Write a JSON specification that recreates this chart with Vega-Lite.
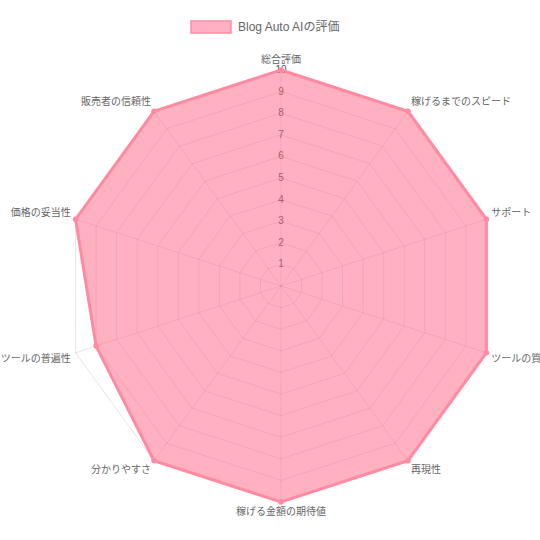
{
  "$schema": "https://vega.github.io/schema/vega-lite/v6.json",
  "width": 540,
  "height": 540,
  "autosize": "none",
  "padding": 0,
  "config": {
    "view": {"stroke": null},
    "font": "Liberation Sans, Noto Sans CJK JP"
  },
  "data": {
    "values": [
      {"idx": 0, "label": "総合評価", "value": 10, "levels": [1, 2, 3, 4, 5, 6, 7, 8, 9, 10]},
      {"idx": 1, "label": "稼げるまでのスピード", "value": 10, "levels": [1, 2, 3, 4, 5, 6, 7, 8, 9, 10]},
      {"idx": 2, "label": "サポート", "value": 10, "levels": [1, 2, 3, 4, 5, 6, 7, 8, 9, 10]},
      {"idx": 3, "label": "ツールの質", "value": 10, "levels": [1, 2, 3, 4, 5, 6, 7, 8, 9, 10]},
      {"idx": 4, "label": "再現性", "value": 10, "levels": [1, 2, 3, 4, 5, 6, 7, 8, 9, 10]},
      {"idx": 5, "label": "稼げる金額の期待値", "value": 10, "levels": [1, 2, 3, 4, 5, 6, 7, 8, 9, 10]},
      {"idx": 6, "label": "分かりやすさ", "value": 10, "levels": [1, 2, 3, 4, 5, 6, 7, 8, 9, 10]},
      {"idx": 7, "label": "ツールの普遍性", "value": 9, "levels": [1, 2, 3, 4, 5, 6, 7, 8, 9, 10]},
      {"idx": 8, "label": "価格の妥当性", "value": 10, "levels": [1, 2, 3, 4, 5, 6, 7, 8, 9, 10]},
      {"idx": 9, "label": "販売者の信頼性", "value": 10, "levels": [1, 2, 3, 4, 5, 6, 7, 8, 9, 10]}
    ]
  },
  "transform": [{"calculate": "datum.idx * PI / 5", "as": "angle"}],
  "encoding": {
    "x": {"field": "px", "type": "quantitative", "axis": null, "scale": {"domain": [-13.009, 11.991], "nice": false, "zero": false}},
    "y": {"field": "py", "type": "quantitative", "axis": null, "scale": {"domain": [-11.759, 13.241], "nice": false, "zero": false}}
  },
  "layer": [
    {
      "transform": [
        {"flatten": ["levels"], "as": ["level"]},
        {"calculate": "datum.level * sin(datum.angle)", "as": "px"},
        {"calculate": "datum.level * cos(datum.angle)", "as": "py"}
      ],
      "mark": {"type": "line", "interpolate": "linear-closed", "stroke": "rgba(0,0,0,0.1)", "strokeWidth": 1},
      "encoding": {
        "detail": {"field": "level"},
        "order": {"field": "idx"}
      }
    },
    {
      "transform": [
        {"calculate": "10 * sin(datum.angle)", "as": "px"},
        {"calculate": "10 * cos(datum.angle)", "as": "py"}
      ],
      "mark": {"type": "rule", "stroke": "rgba(0,0,0,0.1)", "strokeWidth": 1},
      "encoding": {
        "x2": {"datum": 0},
        "y2": {"datum": 0}
      }
    },
    {
      "transform": [
        {"filter": "datum.idx == 0"},
        {"flatten": ["levels"], "as": ["level"]},
        {"calculate": "0", "as": "px"},
        {"calculate": "datum.level", "as": "py"}
      ],
      "mark": {"type": "text", "fontSize": 10, "color": "#555", "align": "center", "baseline": "middle"},
      "encoding": {"text": {"field": "level"}}
    },
    {
      "transform": [
        {"calculate": "datum.value * sin(datum.angle)", "as": "px"},
        {"calculate": "datum.value * cos(datum.angle)", "as": "py"}
      ],
      "mark": {"type": "line", "interpolate": "linear-closed", "fill": "rgba(255,99,132,0.5)", "strokeWidth": 3},
      "encoding": {
        "order": {"field": "idx"},
        "color": {
          "datum": "Blog Auto AIの評価",
          "scale": {"range": ["#ff8aa2"]},
          "legend": {
            "title": null,
            "orient": "none",
            "legendX": 190,
            "legendY": 6,
            "padding": 0,
            "symbolType": "M-1,-0.3H1V0.3H-1Z",
            "symbolSize": 1600,
            "labelFontSize": 12,
            "labelColor": "#666",
            "labelFont": "Liberation Sans, Noto Sans CJK JP",
            "labelOffset": 6,
            "encode": {
              "symbols": {
                "update": {
                  "fill": {"value": "#ffb1c1"},
                  "stroke": {"value": "#ff8aa2"},
                  "strokeWidth": {"value": 3}
                }
              }
            }
          }
        }
      }
    },
    {
      "transform": [
        {"calculate": "datum.value * sin(datum.angle)", "as": "px"},
        {"calculate": "datum.value * cos(datum.angle)", "as": "py"}
      ],
      "mark": {"type": "point", "filled": true, "size": 30, "color": "#ff8aa2", "opacity": 1},
      "encoding": {}
    },
    {
      "transform": [
        {"calculate": "10.23 * sin(datum.angle)", "as": "px"},
        {"calculate": "10.23 * cos(datum.angle)", "as": "py"}
      ],
      "mark": {
        "type": "text",
        "fontSize": 10,
        "color": "#666",
        "align": {"expr": "datum.idx == 0 || datum.idx == 5 ? 'center' : (datum.idx < 5 ? 'left' : 'right')"},
        "baseline": {"expr": "(datum.idx <= 2 || datum.idx >= 8) ? 'bottom' : 'top'"}
      },
      "encoding": {"text": {"field": "label"}}
    }
  ]
}
